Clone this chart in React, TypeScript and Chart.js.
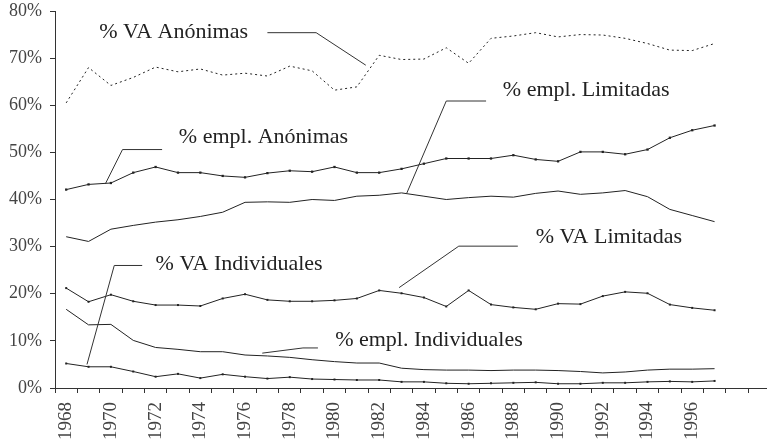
import React, { useEffect, useRef } from "react";
import { Chart, registerables } from "chart.js";

Chart.register(...registerables);

const years = [
  1968, 1969, 1970, 1971, 1972, 1973, 1974, 1975, 1976, 1977, 1978, 1979, 1980, 1981, 1982,
  1983, 1984, 1985, 1986, 1987, 1988, 1989, 1990, 1991, 1992, 1993, 1994, 1995, 1996, 1997,
];
const axisYears = [...years, 1998, 1999];
const yTicks = [0, 10, 20, 30, 40, 50, 60, 70, 80];

const vaAnonimas = [
  60.5, 68.0, 64.2, 65.9, 68.1, 67.1, 67.7, 66.4, 66.8, 66.2, 68.3, 67.3, 63.2, 63.9, 70.6,
  69.7, 69.8, 72.2, 68.9, 74.2, 74.7, 75.4, 74.5, 75.0, 74.9, 74.2, 73.1, 71.7, 71.6, 73.1,
];
const emplAnonimas = [
  42.1, 43.2, 43.5, 45.7, 46.9, 45.7, 45.7, 45.0, 44.7, 45.6, 46.1, 45.9, 46.9, 45.7, 45.7,
  46.5, 47.6, 48.7, 48.7, 48.7, 49.4, 48.5, 48.1, 50.1, 50.1, 49.6, 50.6, 53.1, 54.7, 55.7,
];
const emplLimitadas = [
  32.1, 31.1, 33.7, 34.5, 35.2, 35.7, 36.4, 37.3, 39.4, 39.5, 39.4, 40.0, 39.8, 40.7, 40.9,
  41.4, 40.7, 40.0, 40.4, 40.7, 40.5, 41.3, 41.8, 41.1, 41.4, 41.9, 40.6, 37.9, 36.6, 35.3,
];
const vaLimitadas = [
  21.2, 18.3, 19.8, 18.4, 17.6, 17.6, 17.4, 19.0, 19.9, 18.7, 18.4, 18.4, 18.6, 19.0, 20.7,
  20.1, 19.2, 17.3, 20.7, 17.7, 17.1, 16.7, 17.9, 17.8, 19.5, 20.4, 20.1, 17.7, 17.0, 16.5,
];
const vaIndividuales = [
  16.7, 13.4, 13.5, 10.1, 8.6, 8.2, 7.7, 7.7, 7.0, 6.8, 6.5, 6.0, 5.6, 5.3, 5.3,
  4.2, 3.9, 3.8, 3.8, 3.7, 3.8, 3.8, 3.7, 3.5, 3.2, 3.4, 3.8, 4.0, 4.0, 4.1,
];
const emplIndividuales = [
  5.2, 4.5, 4.5, 3.5, 2.4, 3.0, 2.1, 2.9, 2.4, 2.0, 2.3, 1.9, 1.8, 1.7, 1.7,
  1.3, 1.3, 1.0, 0.9, 1.0, 1.1, 1.2, 0.9, 0.9, 1.1, 1.1, 1.3, 1.4, 1.3, 1.5,
];

// Annotation labels: text, anchor (year, value), leader polyline in (year, value)
const labelTexts = [
  "% VA Anónimas",
  "% empl. Anónimas",
  "% empl. Limitadas",
  "% VA Limitadas",
  "% VA Individuales",
  "% empl. Individuales",
];
const labelAnchors: [number, number][] = [
  [1969.48, 75.5],
  [1973.04, 53.2],
  [1987.53, 63.2],
  [1989.0, 32.0],
  [1972.0, 26.3],
  [1980.03, 10.1],
];
const leaderLines: [number, number][][] = [
  [[1977.0, 75.4], [1979.18, 75.4], [1981.4, 68.5]],
  [[1972.29, 50.6], [1970.52, 50.6], [1969.75, 43.3]],
  [[1986.78, 60.9], [1985.0, 60.9], [1983.23, 41.3]],
  [[1988.2, 30.1], [1985.56, 30.1], [1982.89, 21.3]],
  [[1971.4, 26.0], [1970.15, 26.0], [1968.93, 5.0]],
  [[1979.26, 8.5], [1978.59, 8.5], [1976.77, 7.4]],
];

const FONT = "'Liberation Serif', 'DejaVu Serif', serif";
const INK = "#222";

const annotationPlugin = {
  id: "annotations",
  afterDatasetsDraw(chart: any) {
    const { ctx, scales } = chart;
    const xs = scales.x;
    const ys = scales.y;
    ctx.save();
    ctx.strokeStyle = "#333";
    ctx.lineWidth = 1;
    leaderLines.forEach((pts) => {
      ctx.beginPath();
      pts.forEach(([a, b], i) => {
        const px = xs.getPixelForValue(a);
        const py = ys.getPixelForValue(b);
        if (i === 0) ctx.moveTo(px, py);
        else ctx.lineTo(px, py);
      });
      ctx.stroke();
    });
    ctx.fillStyle = INK;
    ctx.font = `22px ${FONT}`;
    ctx.textAlign = "left";
    ctx.textBaseline = "middle";
    labelTexts.forEach((t, i) => {
      const [a, b] = labelAnchors[i];
      ctx.fillText(t, xs.getPixelForValue(a), ys.getPixelForValue(b));
    });
    ctx.restore();
  },
};

function mk(label: string, data: number[], opts: any) {
  return {
    label,
    data: data.map((v, i) => ({ x: years[i], y: v })),
    borderColor: INK,
    backgroundColor: INK,
    borderWidth: 1,
    tension: 0,
    pointRadius: 0,
    pointBorderWidth: 0,
    pointStyle: "rect",
    ...opts,
  };
}

export default function App() {
  const ref = useRef<HTMLCanvasElement>(null);
  useEffect(() => {
    const canvas = ref.current!;
    const chart = new Chart(canvas, {
      type: "line",
      data: {
        datasets: [
          mk("% VA Anónimas", vaAnonimas, { borderDash: [2, 3] }),
          mk("% empl. Anónimas", emplAnonimas, { pointRadius: 1.6 }),
          mk("% empl. Limitadas", emplLimitadas, {}),
          mk("% VA Limitadas", vaLimitadas, { pointRadius: 1.4 }),
          mk("% VA Individuales", vaIndividuales, {}),
          mk("% empl. Individuales", emplIndividuales, { pointRadius: 1.4 }),
        ],
      },
      options: {
        responsive: false,
        animation: false,
        events: [],
        layout: { padding: { top: 11, right: 0, bottom: 0, left: 0 } },
        plugins: { legend: { display: false }, tooltip: { enabled: false } },
        scales: {
          x: {
            type: "linear",
            min: 1967.5,
            max: 1999.3,
            afterBuildTicks: (s: any) => {
              s.ticks = axisYears.map((v) => ({ value: v }));
            },
            afterFit: (s: any) => {
              s.height = 55;
              s.paddingLeft = 0;
              s.paddingRight = 0;
            },
            border: { display: true, color: "#333", width: 1 },
            grid: {
              offset: true,
              drawOnChartArea: false,
              drawTicks: true,
              tickLength: 5,
              color: "#333",
            },
            ticks: {
              autoSkip: false,
              minRotation: 90,
              maxRotation: 90,
              padding: 9,
              color: "#444",
              font: { family: FONT, size: 19 },
              callback: (v: any) => {
                const n = Number(v);
                return n % 2 === 0 && n <= 1996 ? String(n) : "";
              },
            },
          },
          y: {
            min: 0,
            max: 80,
            afterBuildTicks: (s: any) => {
              s.ticks = yTicks.map((v) => ({ value: v }));
            },
            afterFit: (s: any) => {
              s.width = 55;
              s.paddingTop = 0;
              s.paddingBottom = 0;
            },
            border: { display: true, color: "#333", width: 1 },
            grid: { drawOnChartArea: false, drawTicks: true, tickLength: 5, color: "#333" },
            ticks: {
              padding: 8,
              color: "#444",
              font: { family: FONT, size: 18 },
              callback: (v: any) => `${v}%`,
            },
          },
        },
      },
      plugins: [annotationPlugin],
    } as any);
    return () => chart.destroy();
  }, []);
  return (
    <div style={{ position: "fixed", left: 0, top: 0, width: 770, height: 443, background: "#fff" }}>
      <canvas ref={ref} width={770} height={443} style={{ display: "block" }} />
    </div>
  );
}
